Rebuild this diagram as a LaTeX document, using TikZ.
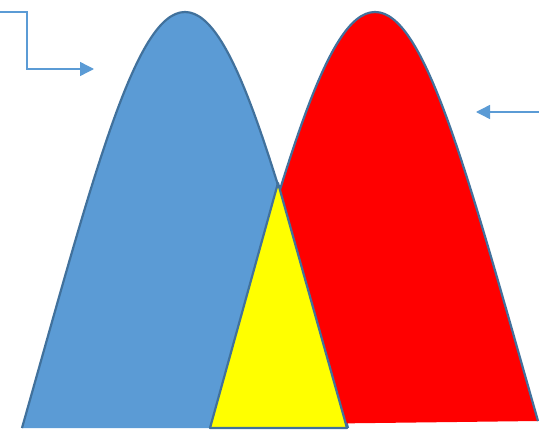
\documentclass[tikz,border=0pt]{standalone}
\usetikzlibrary{arrows.meta}
\definecolor{fillblue}{HTML}{5B9BD5}
\definecolor{edgeblue}{HTML}{41719C}
\definecolor{arrowblue}{HTML}{5B9BD5}
\definecolor{fillred}{RGB}{255,0,0}
\definecolor{fillyellow}{RGB}{255,255,0}
\tikzset{
  edge/.style={draw=edgeblue,line width=2.2pt,line join=round},
  pointer/.style={draw=arrowblue,line width=1.4pt,-{Triangle[length=14pt,width=14pt]}}
}
\begin{document}
\begin{tikzpicture}[x=1pt,y=-1pt]
\useasboundingbox (0,0) rectangle (539,434);
% blue hump
\fill[fillblue] (22,428) .. controls (93,178) and (135,12) .. (185,12)
  .. controls (235,12) and (277,178) .. (348,428) -- cycle;
\path[edge] (22,428) .. controls (93,178) and (135,12) .. (185,12)
  .. controls (235,12) and (277,178) .. (348,428);
% red hump
\fill[fillred] (212,425) .. controls (283,175) and (325,12) .. (375,12)
  .. controls (425,12) and (467,172) .. (538,421) -- cycle;
\path[edge] (212,425) .. controls (283,175) and (325,12) .. (375,12)
  .. controls (425,12) and (467,172) .. (538,421);
% yellow triangle
\path[edge,fill=fillyellow] (278,183) -- (347,428) -- (210,428) -- cycle;
% arrows
\coordinate (a1) at (0,12);
\coordinate (a2) at (27,12);
\coordinate (a3) at (27,69);
\coordinate (a4) at (94,69);
\draw[pointer] (a1) -- (a2) -- (a3) -- (a4);
\coordinate (b1) at (539,112);
\coordinate (b2) at (476,112);
\draw[pointer] (b1) -- (b2);
\end{tikzpicture}
\end{document}
